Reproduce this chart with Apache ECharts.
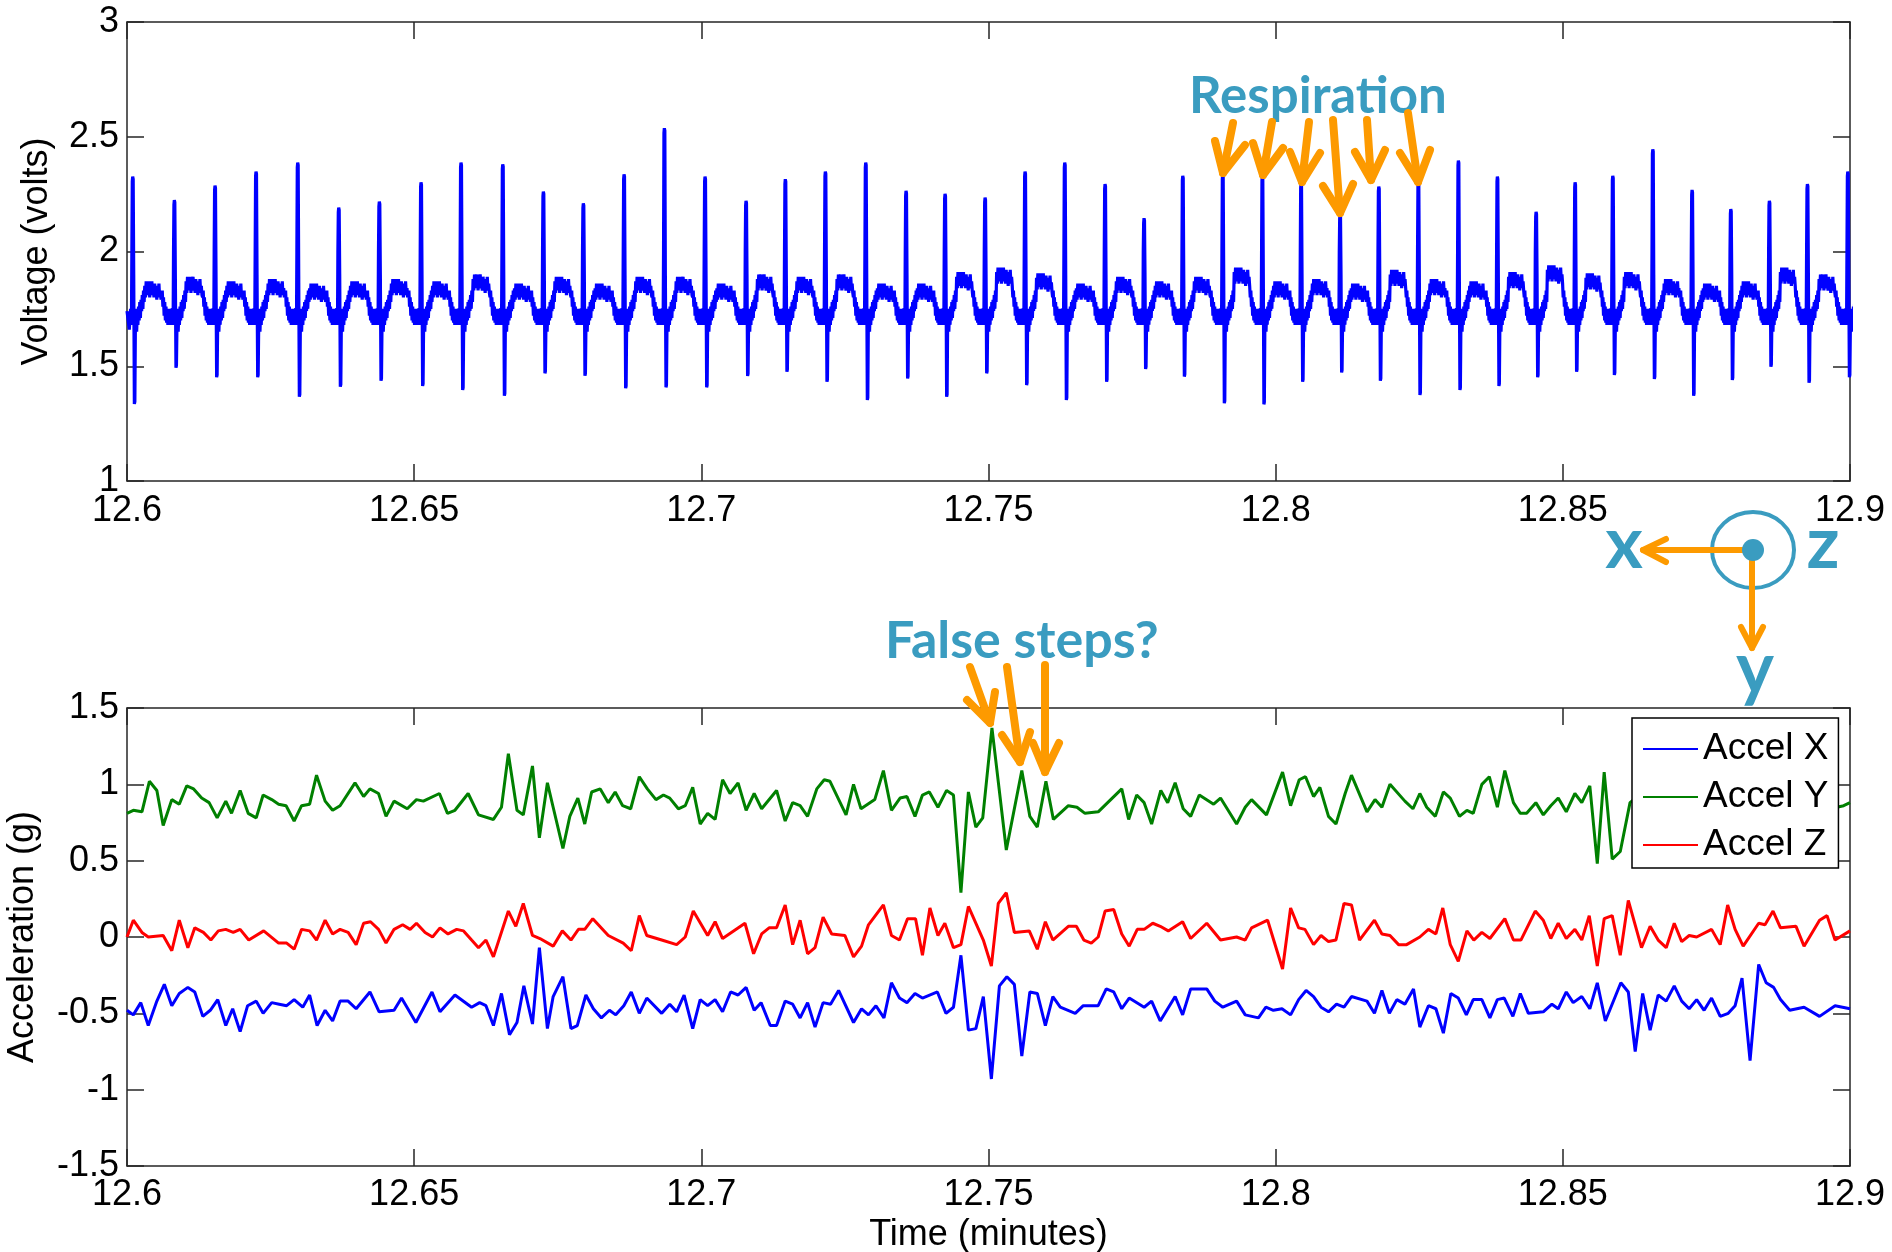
<!DOCTYPE html>
<html>
<head>
<meta charset="utf-8">
<script src="https://cdn.jsdelivr.net/npm/echarts@6/dist/echarts.min.js"></script>
<style>
	html, body { margin: 0; padding: 0; background: #fff; }
	#chart { width: 1892px; height: 1252px; }
</style>
</head>
<body>
<div id="chart"></div>
<script>
// ECG beats: time of each R spike (minutes), spike top, S trough, T-wave hump (volts)
var beatTime = [12.60099, 12.60824, 12.61532, 12.62246, 12.62972, 12.63686, 12.64393, 12.65119, 12.65815, 12.66542, 12.67249,
	12.67945, 12.68654, 12.69356, 12.70064, 12.70778, 12.71462, 12.72159, 12.72862, 12.73564, 12.74243, 12.74940,
	12.75636, 12.76327, 12.77029, 12.77708, 12.78382, 12.79078, 12.79768, 12.80442, 12.81121, 12.81795, 12.82484,
	12.83181, 12.83860, 12.84534, 12.85213, 12.85869, 12.86566, 12.87250, 12.87924, 12.88596, 12.89258, 12.89961];
var rPeak = [2.326, 2.224, 2.287, 2.348, 2.387, 2.191, 2.217, 2.301, 2.387, 2.380, 2.261,
	2.210, 2.336, 2.537, 2.326, 2.221, 2.315, 2.348, 2.387, 2.264, 2.251, 2.235,
	2.348, 2.387, 2.294, 2.145, 2.330, 2.336, 2.330, 2.297, 2.162, 2.283, 2.304,
	2.396, 2.326, 2.173, 2.301, 2.330, 2.445, 2.268, 2.185, 2.221, 2.294, 2.348];
var sTrough = [1.336, 1.494, 1.452, 1.452, 1.367, 1.411, 1.437, 1.414, 1.397, 1.372, 1.469,
	1.459, 1.404, 1.408, 1.408, 1.458, 1.476, 1.433, 1.353, 1.447, 1.367, 1.469,
	1.418, 1.353, 1.433, 1.488, 1.455, 1.339, 1.334, 1.433, 1.473, 1.437, 1.375,
	1.397, 1.414, 1.452, 1.476, 1.462, 1.445, 1.372, 1.440, 1.498, 1.428, 1.452];
var tWave = [1.87, 1.89, 1.87, 1.88, 1.86, 1.87, 1.88, 1.87, 1.90, 1.86, 1.89,
	1.86, 1.89, 1.89, 1.86, 1.90, 1.89, 1.90, 1.86, 1.86, 1.91, 1.93,
	1.905, 1.86, 1.89, 1.87, 1.89, 1.93, 1.87, 1.88, 1.86, 1.92, 1.88,
	1.87, 1.91, 1.94, 1.905, 1.91, 1.88, 1.86, 1.87, 1.93, 1.90, 1.88];
// one beat as seen in the trace: [fraction of beat interval after R, kind, volts]
// kind 'v' = level, 'R' = spike top + offset, 'S' = trough + offset, 'T' = hump level + offset
var beatShape = [
	[-0.05, 'v', 1.75], [-0.038, 'v', 1.68], [-0.028, 'v', 1.74], [-0.02, 'v', 2.00],
	[-0.01, 'R', -0.02], [0, 'R', 0], [0.012, 'R', -0.01], [0.025, 'v', 1.90], [0.04, 'S', 0], [0.052, 'S', 0.01],
	[0.065, 'v', 1.68], [0.08, 'v', 1.75], [0.095, 'v', 1.65], [0.11, 'v', 1.74], [0.125, 'v', 1.68],
	[0.14, 'v', 1.76], [0.155, 'v', 1.70], [0.17, 'v', 1.78], [0.185, 'v', 1.71], [0.20, 'v', 1.79],
	[0.215, 'v', 1.74], [0.23, 'v', 1.81], [0.245, 'v', 1.75], [0.26, 'v', 1.83], [0.275, 'v', 1.78],
	[0.29, 'T', -0.02], [0.307, 'T', -0.07], [0.324, 'T', 0], [0.341, 'T', -0.06], [0.358, 'T', -0.01],
	[0.375, 'T', -0.05], [0.392, 'T', 0], [0.409, 'T', -0.07], [0.426, 'T', -0.02], [0.443, 'T', -0.04],
	[0.46, 'T', 0], [0.477, 'T', -0.06], [0.494, 'T', -0.03], [0.511, 'T', -0.07], [0.528, 'T', -0.01],
	[0.545, 'T', -0.05], [0.562, 'T', -0.02], [0.579, 'T', -0.08], [0.596, 'T', -0.03], [0.613, 'T', -0.06],
	[0.63, 'T', -0.01], [0.647, 'T', -0.07], [0.664, 'T', -0.04], [0.68, 'T', -0.08],
	[0.695, 'v', 1.80], [0.71, 'v', 1.83], [0.725, 'v', 1.76], [0.74, 'v', 1.80], [0.755, 'v', 1.72],
	[0.77, 'v', 1.78], [0.785, 'v', 1.70], [0.80, 'v', 1.76], [0.815, 'v', 1.69], [0.83, 'v', 1.75],
	[0.845, 'v', 1.68], [0.86, 'v', 1.74], [0.875, 'v', 1.69], [0.89, 'v', 1.75], [0.905, 'v', 1.68],
	[0.92, 'v', 1.74]
];
var ecgStart = [[12.6, 1.74], [12.6004, 1.66]];

// accelerometer traces, [minutes, g]
var accelX = [[12.6000,-0.48],[12.6011,-0.51],[12.6024,-0.43],[12.6037,-0.58],[12.6052,-0.42],[12.6065,-0.31],[12.6078,-0.45],[12.6091,-0.37],[12.6106,-0.33],[12.6118,-0.36],[12.6132,-0.52],[12.6145,-0.48],[12.6158,-0.41],[12.6172,-0.58],[12.6184,-0.47],[12.6197,-0.62],[12.6210,-0.45],[12.6225,-0.42],[12.6237,-0.50],[12.6252,-0.43],[12.6265,-0.44],[12.6278,-0.45],[12.6291,-0.41],[12.6306,-0.46],[12.6318,-0.38],[12.6331,-0.58],[12.6345,-0.48],[12.6358,-0.55],[12.6371,-0.42],[12.6385,-0.42],[12.6399,-0.47],[12.6423,-0.36],[12.6439,-0.49],[12.6465,-0.48],[12.6478,-0.40],[12.6503,-0.56],[12.6531,-0.36],[12.6545,-0.49],[12.6571,-0.38],[12.6600,-0.46],[12.6614,-0.43],[12.6625,-0.45],[12.6638,-0.58],[12.6652,-0.37],[12.6666,-0.64],[12.6679,-0.56],[12.6691,-0.32],[12.6706,-0.57],[12.6718,-0.07],[12.6732,-0.60],[12.6742,-0.39],[12.6759,-0.26],[12.6773,-0.60],[12.6784,-0.58],[12.6799,-0.38],[12.6812,-0.47],[12.6826,-0.53],[12.6840,-0.48],[12.6851,-0.51],[12.6865,-0.45],[12.6878,-0.36],[12.6892,-0.50],[12.6905,-0.40],[12.6931,-0.50],[12.6945,-0.44],[12.6957,-0.49],[12.6970,-0.38],[12.6985,-0.60],[12.6998,-0.41],[12.7011,-0.45],[12.7024,-0.41],[12.7037,-0.49],[12.7051,-0.36],[12.7064,-0.38],[12.7078,-0.33],[12.7092,-0.48],[12.7104,-0.43],[12.7120,-0.58],[12.7131,-0.58],[12.7146,-0.42],[12.7159,-0.44],[12.7172,-0.53],[12.7185,-0.43],[12.7198,-0.59],[12.7212,-0.43],[12.7225,-0.44],[12.7239,-0.35],[12.7265,-0.56],[12.7279,-0.47],[12.7291,-0.51],[12.7304,-0.45],[12.7318,-0.53],[12.7331,-0.30],[12.7345,-0.40],[12.7358,-0.43],[12.7372,-0.37],[12.7385,-0.40],[12.7411,-0.36],[12.7426,-0.50],[12.7439,-0.46],[12.7452,-0.12],[12.7465,-0.61],[12.7478,-0.60],[12.7491,-0.39],[12.7505,-0.93],[12.7519,-0.32],[12.7532,-0.26],[12.7545,-0.31],[12.7558,-0.78],[12.7572,-0.36],[12.7585,-0.37],[12.7599,-0.58],[12.7612,-0.39],[12.7625,-0.46],[12.7651,-0.50],[12.7665,-0.45],[12.7691,-0.45],[12.7705,-0.34],[12.7718,-0.36],[12.7732,-0.47],[12.7745,-0.40],[12.7771,-0.46],[12.7784,-0.42],[12.7799,-0.55],[12.7825,-0.39],[12.7838,-0.51],[12.7852,-0.34],[12.7880,-0.34],[12.7894,-0.42],[12.7908,-0.46],[12.7932,-0.42],[12.7947,-0.51],[12.7970,-0.53],[12.7983,-0.46],[12.7996,-0.48],[12.8011,-0.47],[12.8026,-0.51],[12.8040,-0.41],[12.8053,-0.35],[12.8066,-0.39],[12.8079,-0.46],[12.8092,-0.49],[12.8106,-0.44],[12.8119,-0.46],[12.8132,-0.39],[12.8159,-0.42],[12.8172,-0.50],[12.8185,-0.35],[12.8198,-0.50],[12.8211,-0.41],[12.8225,-0.44],[12.8240,-0.34],[12.8251,-0.59],[12.8266,-0.45],[12.8279,-0.47],[12.8292,-0.63],[12.8305,-0.37],[12.8318,-0.40],[12.8332,-0.51],[12.8344,-0.41],[12.8359,-0.41],[12.8373,-0.53],[12.8386,-0.41],[12.8398,-0.40],[12.8413,-0.52],[12.8426,-0.37],[12.8440,-0.50],[12.8466,-0.49],[12.8481,-0.44],[12.8492,-0.47],[12.8506,-0.36],[12.8518,-0.43],[12.8533,-0.39],[12.8547,-0.47],[12.8560,-0.30],[12.8574,-0.55],[12.8601,-0.30],[12.8614,-0.36],[12.8626,-0.75],[12.8639,-0.37],[12.8652,-0.61],[12.8666,-0.38],[12.8680,-0.42],[12.8694,-0.32],[12.8707,-0.42],[12.8720,-0.47],[12.8733,-0.41],[12.8746,-0.48],[12.8759,-0.40],[12.8774,-0.52],[12.8788,-0.50],[12.8800,-0.45],[12.8812,-0.27],[12.8826,-0.81],[12.8841,-0.18],[12.8854,-0.30],[12.8867,-0.33],[12.8879,-0.41],[12.8895,-0.48],[12.8920,-0.46],[12.8947,-0.52],[12.8974,-0.45],[12.9000,-0.47]];
var accelY = [[12.6000,0.81],[12.6011,0.83],[12.6026,0.82],[12.6039,1.02],[12.6052,0.96],[12.6063,0.73],[12.6078,0.90],[12.6091,0.87],[12.6104,0.99],[12.6116,0.97],[12.6130,0.91],[12.6143,0.88],[12.6157,0.78],[12.6172,0.89],[12.6182,0.81],[12.6197,0.96],[12.6211,0.81],[12.6225,0.78],[12.6237,0.93],[12.6252,0.90],[12.6264,0.87],[12.6277,0.86],[12.6291,0.76],[12.6304,0.86],[12.6318,0.87],[12.6330,1.06],[12.6345,0.89],[12.6358,0.83],[12.6371,0.86],[12.6397,1.01],[12.6412,0.92],[12.6423,0.97],[12.6438,0.94],[12.6451,0.79],[12.6465,0.89],[12.6488,0.84],[12.6504,0.90],[12.6516,0.89],[12.6544,0.94],[12.6558,0.81],[12.6571,0.83],[12.6594,0.94],[12.6612,0.80],[12.6638,0.77],[12.6652,0.85],[12.6664,1.20],[12.6679,0.83],[12.6690,0.80],[12.6706,1.12],[12.6718,0.65],[12.6732,1.01],[12.6742,0.85],[12.6759,0.58],[12.6771,0.79],[12.6785,0.91],[12.6797,0.74],[12.6809,0.95],[12.6824,0.97],[12.6838,0.88],[12.6850,0.95],[12.6863,0.86],[12.6877,0.84],[12.6892,1.05],[12.6906,0.97],[12.6921,0.90],[12.6934,0.93],[12.6945,0.91],[12.6960,0.84],[12.6972,0.86],[12.6985,0.98],[12.6998,0.74],[12.7011,0.81],[12.7024,0.77],[12.7037,1.03],[12.7050,0.94],[12.7064,1.01],[12.7078,0.83],[12.7092,0.94],[12.7105,0.84],[12.7131,0.96],[12.7146,0.76],[12.7159,0.88],[12.7172,0.86],[12.7185,0.79],[12.7201,0.97],[12.7214,1.03],[12.7224,1.02],[12.7252,0.80],[12.7265,1.00],[12.7278,0.84],[12.7302,0.90],[12.7317,1.09],[12.7331,0.83],[12.7346,0.91],[12.7358,0.92],[12.7372,0.79],[12.7385,0.93],[12.7397,0.95],[12.7412,0.85],[12.7427,0.96],[12.7439,0.93],[12.7452,0.29],[12.7465,0.95],[12.7478,0.72],[12.7490,0.78],[12.7506,1.37],[12.7531,0.57],[12.7558,1.09],[12.7572,0.79],[12.7585,0.72],[12.7600,1.02],[12.7613,0.77],[12.7639,0.86],[12.7654,0.85],[12.7668,0.81],[12.7691,0.82],[12.7732,0.97],[12.7744,0.77],[12.7758,0.93],[12.7771,0.88],[12.7784,0.74],[12.7800,0.96],[12.7812,0.88],[12.7825,1.01],[12.7839,0.84],[12.7852,0.79],[12.7867,0.93],[12.7892,0.87],[12.7904,0.91],[12.7932,0.74],[12.7947,0.85],[12.7958,0.90],[12.7984,0.80],[12.8012,1.08],[12.8026,0.86],[12.8041,1.03],[12.8052,1.05],[12.8066,0.92],[12.8077,0.98],[12.8092,0.79],[12.8105,0.74],[12.8121,0.94],[12.8132,1.06],[12.8159,0.82],[12.8173,0.90],[12.8185,0.85],[12.8199,1.00],[12.8225,0.89],[12.8239,0.84],[12.8251,0.94],[12.8263,0.85],[12.8278,0.79],[12.8292,0.95],[12.8304,0.91],[12.8320,0.79],[12.8333,0.83],[12.8344,0.81],[12.8359,1.00],[12.8372,1.05],[12.8386,0.85],[12.8399,1.09],[12.8414,0.88],[12.8426,0.81],[12.8437,0.81],[12.8453,0.88],[12.8466,0.80],[12.8479,0.86],[12.8492,0.91],[12.8506,0.82],[12.8521,0.94],[12.8533,0.88],[12.8547,0.99],[12.8560,0.48],[12.8572,1.08],[12.8586,0.51],[12.8600,0.56],[12.8617,0.88],[12.8640,0.95],[12.8665,0.82],[12.8690,0.90],[12.8715,0.80],[12.8740,0.93],[12.8765,0.85],[12.8790,0.97],[12.8815,0.83],[12.8840,0.90],[12.8865,0.78],[12.8890,0.92],[12.8915,0.86],[12.8940,0.95],[12.8965,0.84],[12.8989,0.86],[12.9000,0.88]];
var accelZ = [[12.6000,0.00],[12.6011,0.11],[12.6026,0.03],[12.6037,0.00],[12.6063,0.01],[12.6078,-0.09],[12.6091,0.11],[12.6106,-0.07],[12.6118,0.06],[12.6133,0.03],[12.6146,-0.02],[12.6159,0.04],[12.6172,0.05],[12.6185,0.03],[12.6197,0.05],[12.6212,-0.02],[12.6238,0.04],[12.6264,-0.04],[12.6278,-0.04],[12.6291,-0.08],[12.6304,0.05],[12.6318,0.04],[12.6330,-0.02],[12.6345,0.11],[12.6358,0.02],[12.6371,0.05],[12.6385,0.03],[12.6399,-0.05],[12.6412,0.09],[12.6424,0.10],[12.6438,0.05],[12.6451,-0.04],[12.6465,0.05],[12.6480,0.08],[12.6493,0.05],[12.6504,0.09],[12.6519,0.03],[12.6532,0.00],[12.6545,0.06],[12.6559,0.02],[12.6574,0.05],[12.6586,0.04],[12.6600,-0.02],[12.6612,-0.07],[12.6625,-0.02],[12.6638,-0.13],[12.6664,0.17],[12.6677,0.07],[12.6690,0.22],[12.6706,0.01],[12.6719,-0.01],[12.6742,-0.06],[12.6758,0.04],[12.6773,-0.02],[12.6786,0.05],[12.6797,0.05],[12.6811,0.12],[12.6838,0.01],[12.6864,-0.04],[12.6878,-0.09],[12.6892,0.14],[12.6905,0.01],[12.6931,-0.02],[12.6957,-0.05],[12.6972,0.00],[12.6986,0.17],[12.7011,0.01],[12.7024,0.10],[12.7037,-0.01],[12.7076,0.09],[12.7091,-0.11],[12.7105,0.02],[12.7118,0.06],[12.7131,0.06],[12.7146,0.21],[12.7159,-0.05],[12.7172,0.11],[12.7185,-0.11],[12.7198,-0.07],[12.7212,0.13],[12.7227,0.02],[12.7250,0.01],[12.7265,-0.13],[12.7279,-0.06],[12.7291,0.08],[12.7317,0.21],[12.7331,0.01],[12.7345,-0.02],[12.7359,0.12],[12.7373,0.12],[12.7385,-0.12],[12.7398,0.19],[12.7412,0.01],[12.7424,0.09],[12.7439,-0.07],[12.7452,-0.05],[12.7465,0.20],[12.7491,-0.02],[12.7505,-0.19],[12.7517,0.22],[12.7531,0.29],[12.7545,0.03],[12.7571,0.04],[12.7585,-0.08],[12.7599,0.10],[12.7612,-0.02],[12.7639,0.07],[12.7653,0.07],[12.7666,-0.02],[12.7679,-0.04],[12.7691,0.00],[12.7703,0.17],[12.7718,0.18],[12.7732,0.02],[12.7745,-0.06],[12.7759,0.05],[12.7771,0.05],[12.7786,0.09],[12.7799,0.07],[12.7813,0.04],[12.7838,0.10],[12.7852,-0.01],[12.7880,0.09],[12.7904,-0.02],[12.7932,0.00],[12.7947,-0.02],[12.7958,0.06],[12.7986,0.11],[12.8012,-0.21],[12.8026,0.19],[12.8040,0.06],[12.8051,0.05],[12.8066,-0.05],[12.8079,0.01],[12.8092,-0.03],[12.8105,-0.02],[12.8119,0.22],[12.8132,0.21],[12.8146,-0.02],[12.8172,0.11],[12.8185,0.02],[12.8199,0.01],[12.8214,-0.05],[12.8228,-0.05],[12.8251,0.00],[12.8266,0.05],[12.8279,0.02],[12.8291,0.19],[12.8304,-0.05],[12.8318,-0.16],[12.8333,0.04],[12.8345,-0.02],[12.8359,0.03],[12.8373,-0.01],[12.8399,0.12],[12.8414,-0.02],[12.8427,-0.02],[12.8452,0.17],[12.8466,0.11],[12.8479,-0.01],[12.8492,0.09],[12.8506,-0.01],[12.8521,0.05],[12.8533,-0.02],[12.8546,0.14],[12.8560,-0.19],[12.8572,0.12],[12.8586,0.14],[12.8600,-0.12],[12.8614,0.24],[12.8637,-0.07],[12.8652,0.07],[12.8666,-0.02],[12.8680,-0.07],[12.8694,0.09],[12.8707,-0.03],[12.8720,0.01],[12.8733,0.00],[12.8759,0.05],[12.8774,-0.05],[12.8787,0.21],[12.8800,0.05],[12.8814,-0.06],[12.8841,0.09],[12.8852,0.08],[12.8866,0.17],[12.8879,0.06],[12.8906,0.07],[12.8920,-0.06],[12.8947,0.11],[12.8960,0.14],[12.8974,-0.02],[12.9000,0.04]];

var timeTicks = {min: 12.6, max: 12.9, interval: 0.05};
var voltTicks = {min: 1, max: 3, interval: 0.5};
var accelTicks = {min: -1.5, max: 1.5, interval: 0.5};
var legendNames = ['Accel X', 'Accel Y', 'Accel Z'];

var ecgData = ecgStart.slice();
for (var i = 0; i < beatTime.length; i++) {
	var dt = i < beatTime.length - 1 ? beatTime[i + 1] - beatTime[i] : beatTime[i] - beatTime[i - 1];
	for (var k = 0; k < beatShape.length; k++) {
		var p = beatShape[k];
		var v = p[1] === 'R' ? rPeak[i] + p[2] : p[1] === 'S' ? sTrough[i] + p[2] : p[1] === 'T' ? tWave[i] + p[2] : p[2];
		ecgData.push([beatTime[i] + p[0] * dt, v]);
	}
}

var AX = '#262626';
var TEAL = '#3a9cc0';
var ORANGE = '#fd9a00';
var labelFont = {fontFamily: 'Liberation Sans', fontSize: 36, color: '#000'};

function axis(grid, pos, ticks, showLabel, extra) {
	var a = {
		gridIndex: grid,
		type: 'value',
		position: pos,
		min: ticks.min,
		max: ticks.max,
		interval: ticks.interval,
		axisLine: {show: true, onZero: false, lineStyle: {color: AX, width: 1.5}},
		axisTick: {show: true, inside: true, length: 17, lineStyle: {color: AX, width: 1.5}},
		splitLine: {show: false},
		axisLabel: {
			show: showLabel,
			margin: (pos === 'left' ? 8 : (grid === 0 ? 12 : 11)),
			fontFamily: labelFont.fontFamily,
			fontSize: labelFont.fontSize,
			color: labelFont.color,
			formatter: function (val) { return String(+val.toFixed(2)); }
		}
	};
	for (var key in extra) { a[key] = extra[key]; }
	return a;
}

var nameStyle = {fontFamily: 'Liberation Sans', fontSize: 36, color: '#000'};

function arrow(tail, tip, arm1, arm2, w) {
	return [
		{type: 'polyline', z: 100, shape: {points: [tail, tip]},
			style: {stroke: ORANGE, lineWidth: w, lineCap: 'round', lineJoin: 'round', fill: null}},
		{type: 'polyline', z: 100, shape: {points: [arm1, tip, arm2]},
			style: {stroke: ORANGE, lineWidth: w, lineCap: 'round', lineJoin: 'round', fill: null}}
	];
}

function label(text, x, y, size, align) {
	return {type: 'text', z: 100, style: {
		text: text, x: x, y: y, fill: TEAL,
		font: 'bold ' + size + 'px Lato',
		align: align, verticalAlign: 'middle', textAlign: align, textVerticalAlign: 'middle'
	}};
}

var graphics = [];
graphics.push(label('Respiration', 1189, 97, 51, 'left'));
graphics.push(label('False steps?', 885, 641, 52, 'left'));
graphics = graphics.concat(
	arrow([1233, 123], [1223, 173], [1215, 141], [1245, 145], 8),
	arrow([1272, 122], [1263, 175], [1253, 143], [1283, 148], 8),
	arrow([1309, 122], [1302, 182], [1290, 152], [1320, 153], 8),
	arrow([1333, 120], [1340, 213], [1323, 186], [1353, 184], 8),
	arrow([1367, 120], [1371, 180], [1355, 152], [1385, 150], 8),
	arrow([1408, 113], [1418, 182], [1400, 153], [1430, 150], 8),
	arrow([970, 667], [990, 723], [967, 700], [995, 692], 8),
	arrow([1007, 667], [1020, 762], [1002, 735], [1030, 732], 8),
	arrow([1045, 665], [1045, 772], [1033, 743], [1059, 743], 8)
);
// axis orientation glyph
graphics.push({type: 'ellipse', z: 100, shape: {cx: 1753, cy: 550, rx: 41, ry: 38},
	style: {fill: null, stroke: TEAL, lineWidth: 4}});
graphics = graphics.concat(
	arrow([1753, 550], [1643, 550], [1666, 539], [1666, 562], 6),
	arrow([1752, 550], [1752, 648], [1741, 627], [1763, 627], 6)
);
graphics.push({type: 'circle', z: 101, shape: {cx: 1753, cy: 550, r: 11}, style: {fill: TEAL}});
graphics.push(label('x', 1624, 545, 72, 'center'));
graphics.push(label('z', 1823, 545, 72, 'center'));
graphics.push(label('y', 1755, 670, 72, 'center'));

var chart = echarts.init(document.getElementById('chart'), null, {renderer: 'canvas'});
chart.setOption({
	animation: false,
	backgroundColor: '#fff',
	grid: [
		{left: 127, top: 22, width: 1723, height: 459, containLabel: false, outerBoundsMode: 'none'},
		{left: 127, top: 708, width: 1723, height: 458, containLabel: false, outerBoundsMode: 'none'}
	],
	xAxis: [
		axis(0, 'bottom', timeTicks, true, {}),
		axis(0, 'top', timeTicks, false, {}),
		axis(1, 'bottom', timeTicks, true, {
			name: 'Time (minutes)', nameLocation: 'middle', nameGap: 51, nameTextStyle: nameStyle, nameMoveOverlap: false
		}),
		axis(1, 'top', timeTicks, false, {})
	],
	yAxis: [
		axis(0, 'left', voltTicks, true, {
			name: 'Voltage (volts)', nameLocation: 'middle', nameGap: 72, nameRotate: 90, nameTextStyle: nameStyle, nameMoveOverlap: false
		}),
		axis(0, 'right', voltTicks, false, {}),
		axis(1, 'left', accelTicks, true, {
			name: 'Acceleration (g)', nameLocation: 'middle', nameGap: 86, nameRotate: 90, nameTextStyle: nameStyle, nameMoveOverlap: false
		}),
		axis(1, 'right', accelTicks, false, {})
	],
	legend: {
		data: legendNames,
		orient: 'vertical',
		left: 1632,
		top: 718,
		icon: 'rect',
		itemWidth: 55,
		itemHeight: 2,
		itemGap: 8,
		padding: [11, 10, 3, 11],
		backgroundColor: '#fff',
		borderColor: '#000',
		borderWidth: 1.5,
		borderRadius: 0,
		selectedMode: false,
		textStyle: {fontFamily: 'Liberation Sans', fontSize: 37, color: '#000', lineHeight: 40}
	},
	series: [
		{
			name: 'ECG', type: 'line', xAxisIndex: 0, yAxisIndex: 0, data: ecgData,
			showSymbol: false, symbol: 'none', lineStyle: {color: '#0000ff', width: 3.2}, itemStyle: {color: '#0000ff'}
		},
		{
			name: legendNames[0], type: 'line', xAxisIndex: 2, yAxisIndex: 2, data: accelX,
			showSymbol: false, symbol: 'none', lineStyle: {color: '#0000ff', width: 3}, itemStyle: {color: '#0000ff'}
		},
		{
			name: legendNames[1], type: 'line', xAxisIndex: 2, yAxisIndex: 2, data: accelY,
			showSymbol: false, symbol: 'none', lineStyle: {color: '#008000', width: 3}, itemStyle: {color: '#008000'}
		},
		{
			name: legendNames[2], type: 'line', xAxisIndex: 2, yAxisIndex: 2, data: accelZ,
			showSymbol: false, symbol: 'none', lineStyle: {color: '#ff0000', width: 3}, itemStyle: {color: '#ff0000'}
		}
	],
	graphic: {elements: graphics}
});
</script>
</body>
</html>
